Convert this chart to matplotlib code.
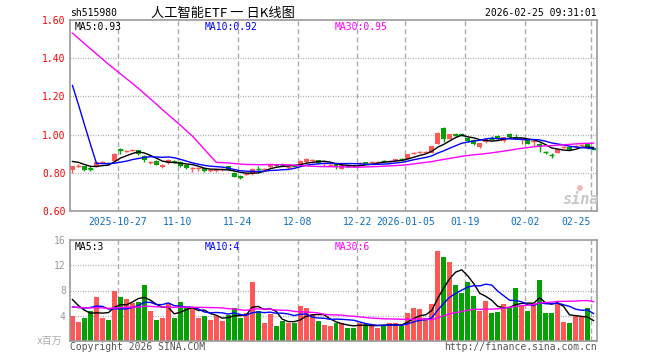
import math
import numpy as np
import matplotlib
matplotlib.use('Agg')
import matplotlib.pyplot as plt

plt.rcParams['font.family'] = ['DejaVu Sans Mono', 'Noto Sans CJK SC']

# daily candles (88 sessions, 2025-10-15 .. 2026-02-25)
opens = [0.816, 0.836, 0.833, 0.824, 0.833, 0.857, 0.852, 0.860, 0.922, 0.914,
         0.916, 0.917, 0.889, 0.855, 0.863, 0.828, 0.850, 0.861, 0.856, 0.843,
         0.824, 0.824, 0.823, 0.811, 0.808, 0.816, 0.836, 0.799, 0.781, 0.794,
         0.794, 0.822, 0.820, 0.829, 0.846, 0.845, 0.829, 0.840, 0.841, 0.857,
         0.864, 0.867, 0.848, 0.840, 0.844, 0.822, 0.836, 0.840, 0.848, 0.854,
         0.855, 0.857, 0.862, 0.860, 0.862, 0.872, 0.873, 0.903, 0.908, 0.909,
         0.906, 0.953, 1.036, 0.977, 1.001, 1.001, 0.983, 0.973, 0.934, 0.960,
         0.981, 0.994, 0.968, 1.001, 0.985, 0.978, 0.970, 0.962, 0.952, 0.911,
         0.895, 0.906, 0.934, 0.935, 0.939, 0.943, 0.950, 0.928]
closes = [0.836, 0.838, 0.813, 0.822, 0.856, 0.859, 0.850, 0.900, 0.920, 0.916,
          0.918, 0.896, 0.869, 0.857, 0.843, 0.842, 0.868, 0.859, 0.838, 0.825,
          0.826, 0.826, 0.807, 0.813, 0.820, 0.818, 0.817, 0.780, 0.779, 0.796,
          0.821, 0.820, 0.822, 0.846, 0.835, 0.843, 0.831, 0.838, 0.864, 0.874,
          0.866, 0.849, 0.850, 0.842, 0.830, 0.839, 0.834, 0.833, 0.850, 0.852,
          0.857, 0.859, 0.860, 0.862, 0.872, 0.870, 0.899, 0.905, 0.910, 0.911,
          0.938, 1.008, 0.977, 1.002, 0.999, 0.999, 0.965, 0.950, 0.956, 0.979,
          0.979, 0.978, 0.988, 0.985, 0.983, 0.980, 0.952, 0.964, 0.933, 0.909,
          0.893, 0.924, 0.936, 0.920, 0.941, 0.945, 0.931, 0.926]
highs = [0.838, 0.846, 0.836, 0.833, 0.858, 0.864, 0.858, 0.902, 0.930, 0.920,
         0.922, 0.920, 0.893, 0.862, 0.866, 0.844, 0.870, 0.866, 0.862, 0.845,
         0.830, 0.830, 0.826, 0.818, 0.822, 0.824, 0.838, 0.802, 0.790, 0.800,
         0.823, 0.838, 0.826, 0.848, 0.848, 0.850, 0.834, 0.844, 0.866, 0.880,
         0.870, 0.869, 0.852, 0.846, 0.846, 0.845, 0.840, 0.842, 0.854, 0.858,
         0.860, 0.863, 0.866, 0.866, 0.874, 0.876, 0.901, 0.910, 0.915, 0.916,
         0.940, 1.012, 1.038, 1.004, 1.006, 1.008, 0.986, 0.975, 0.958, 0.981,
         0.992, 1.000, 0.990, 1.010, 1.005, 0.984, 0.974, 0.966, 0.955, 0.916,
         0.906, 0.926, 0.940, 0.937, 0.946, 0.950, 0.958, 0.932]
lows = [0.800, 0.830, 0.810, 0.812, 0.830, 0.852, 0.845, 0.858, 0.900, 0.910,
        0.912, 0.893, 0.857, 0.848, 0.840, 0.826, 0.848, 0.852, 0.828, 0.822,
        0.806, 0.812, 0.805, 0.806, 0.806, 0.812, 0.815, 0.778, 0.766, 0.790,
        0.788, 0.815, 0.815, 0.827, 0.833, 0.838, 0.818, 0.834, 0.839, 0.853,
        0.860, 0.847, 0.836, 0.836, 0.818, 0.818, 0.830, 0.830, 0.844, 0.848,
        0.850, 0.852, 0.856, 0.855, 0.860, 0.866, 0.871, 0.898, 0.905, 0.905,
        0.904, 0.950, 0.962, 0.975, 0.994, 0.994, 0.962, 0.944, 0.932, 0.958,
        0.974, 0.970, 0.962, 0.982, 0.978, 0.950, 0.950, 0.938, 0.910, 0.900,
        0.880, 0.904, 0.930, 0.918, 0.935, 0.938, 0.925, 0.922]
# volume, millions
volumes = [3.9, 3.0, 3.7, 4.8, 6.9, 3.7, 3.4, 7.9, 6.9, 6.7,
           6.0, 6.1, 8.8, 4.8, 3.4, 3.7, 6.0, 3.6, 6.1, 5.4,
           5.4, 3.6, 4.0, 3.4, 4.0, 3.1, 4.1, 5.3, 3.6, 4.4,
           9.3, 4.8, 2.9, 4.2, 2.3, 3.2, 2.8, 2.8, 5.5, 5.2,
           4.3, 3.2, 2.6, 2.3, 2.8, 2.8, 2.1, 2.0, 2.8, 2.7,
           2.6, 2.1, 2.4, 2.9, 2.9, 2.4, 4.5, 5.2, 5.0, 3.7,
           5.8, 14.2, 13.3, 12.5, 8.8, 7.6, 9.4, 7.2, 4.8, 6.4,
           4.5, 4.6, 5.9, 5.3, 8.4, 5.6, 4.8, 5.8, 9.6, 4.5,
           4.5, 5.8, 3.0, 2.9, 3.9, 3.9, 5.3, 0.2]

# sessions before the visible window (needed for the moving averages)
pre_closes = [1.64, 1.65, 1.63, 1.66, 1.67, 1.65, 1.66, 1.68, 1.67, 1.66,
              1.68, 1.69, 1.67, 1.68, 1.70, 1.69, 1.67, 1.66, 1.68, 1.67,
              1.84, 1.86, 1.85, 1.85, 0.87, 0.86, 0.87, 0.87, 0.86]
pre_volumes = [5.6, 4.8, 6.2, 5.1, 4.9, 5.8, 6.0, 5.2, 4.7, 5.5,
               5.9, 5.0, 5.3, 5.6, 4.8, 5.7, 5.4, 5.2, 5.5, 5.8,
               4.0, 4.5, 3.9, 4.6, 4.2, 7.8, 7.3, 7.2, 6.6]

tick_idx = [8, 18, 28, 38, 48, 56, 66, 76, 87]
tick_labels = ['2025-10-27', '11-10', '11-24', '12-08', '12-22',
               '2026-01-05', '01-19', '02-02', '02-25']
price_ticks = [0.60, 0.80, 1.00, 1.20, 1.40, 1.60]
vol_ticks = [4, 8, 12, 16]

RED = '#ff5656'
GREEN = '#04a004'
MA_COLORS = {5: 'black', 10: '#0000ff', 30: '#ff00ff'}
GRID = '#aaaaaa'
W, H = 660, 360


def moving_avg(pre, vals, n):
    full = np.array(pre + vals, dtype=float)
    out = np.convolve(full, np.ones(n) / n, mode='valid')
    return out[-len(vals):]


def trunc(v, d):
    f = 10 ** d
    return math.floor(v * f + 1e-9) / f


o = np.array(opens)
c = np.array(closes)
n = len(c)
x = np.arange(n)
bw = 5 / 6
cx = x + bw / 2
cols = np.where(c >= o, RED, GREEN)

fig = plt.figure(figsize=(W / 100, H / 100), dpi=100)
ax = fig.add_axes([70 / W, 1 - 211 / H, 527 / W, 191 / H])
axv = fig.add_axes([70 / W, 1 - 341 / H, 527 / W, 101 / H])

for a in (ax, axv):
    a.set_xlim(0, 88)
    for s in a.spines.values():
        s.set_color('#999999')
        s.set_linewidth(1.2)
    for t in tick_idx:
        a.axvline(t, color=GRID, lw=1, dashes=(3.6, 2.2), zorder=0)

# price panel
for y in price_ticks[1:-1]:
    ax.axhline(y, color=GRID, lw=0.9, dashes=(0.8, 1.2), zorder=0)
ax.vlines(cx, lows, highs, colors=cols, lw=1, zorder=2)
ax.bar(x, np.abs(c - o), bw, bottom=np.minimum(o, c), align='edge',
       color=cols, lw=0, zorder=2)
flat = np.abs(c - o) < 0.006
ax.hlines(c[flat], x[flat], x[flat] + bw, colors=cols[flat], lw=1, zorder=2)

price_ma = {}
for k in (5, 10, 30):
    price_ma[k] = moving_avg(pre_closes, closes, k)
    ax.plot(cx, price_ma[k], color=MA_COLORS[k], lw=1, zorder=3)

ax.set_ylim(0.60, 1.60)
ax.set_yticks(price_ticks)
ax.set_yticklabels(['%.2f' % v for v in price_ticks])
ax.tick_params(axis='y', length=0, pad=3, labelsize=7, labelcolor='#ff0000')
ax.set_xticks(tick_idx)
ax.set_xticklabels(tick_labels)
ax.tick_params(axis='x', length=0, pad=4, labelsize=7, labelcolor='#0a6ec4')
ax.get_xticklabels()[-1].set_horizontalalignment('right')

lx = [75, 205, 335]
for px, k in zip(lx, (5, 10, 30)):
    fig.text(px / W, 1 - 27 / H, 'MA%d:%.2f' % (k, trunc(price_ma[k][-1], 2)),
             color=MA_COLORS[k], fontsize=7, va='center')

# sina watermark
fig.text(581 / W, 1 - 199 / H, 'sina', fontsize=11, fontweight='bold',
         style='italic', color='#c8c8c8', ha='center', va='center')
fig.text(580 / W, 1 - 188 / H, '●', fontsize=7, color='#f4b8b8',
         ha='center', va='center')

# volume panel
for y in vol_ticks[:-1]:
    axv.axhline(y, color=GRID, lw=0.9, dashes=(0.8, 1.2), zorder=0)
axv.bar(x, volumes, bw, align='edge', color=cols, lw=0, zorder=2)
vol_ma = {}
for k in (5, 10, 30):
    vol_ma[k] = moving_avg(pre_volumes, volumes, k)
    axv.plot(cx, vol_ma[k], color=MA_COLORS[k], lw=1, zorder=3)
axv.set_ylim(0, 16)
axv.set_yticks(vol_ticks)
axv.set_yticklabels([str(v) for v in vol_ticks])
axv.tick_params(axis='y', length=0, pad=3, labelsize=7, labelcolor='#999999')
axv.set_xticks([])

for px, k in zip(lx, (5, 10, 30)):
    fig.text(px / W, 1 - 247 / H, 'MA%d:%d' % (k, int(trunc(vol_ma[k][-1], 0))),
             color=MA_COLORS[k], fontsize=7, va='center')

fig.text(62 / W, 1 - 341 / H, 'x百万', color='#aaaaaa', fontsize=7,
         ha='right', va='center')
fig.text(70 / W, 1 - 347 / H, 'Copyright 2026 SINA.COM', color='#555555',
         fontsize=7, va='center')
fig.text(597 / W, 1 - 347 / H, 'http://finance.sina.com.cn', color='#555555',
         fontsize=7, ha='right', va='center')

# header
fig.text(70 / W, 1 - 13 / H, 'sh515980', color='black', fontsize=7, va='center')
fig.text(223 / W, 1 - 13 / H, '人工智能ETF 一 日K线图', color='black', fontsize=9.5,
         ha='center', va='center', family=['Noto Sans CJK SC', 'DejaVu Sans'])
fig.text(597 / W, 1 - 13 / H, '2026-02-25 09:31:01', color='black', fontsize=7,
         ha='right', va='center')

fig.savefig('out.png', dpi=100)
